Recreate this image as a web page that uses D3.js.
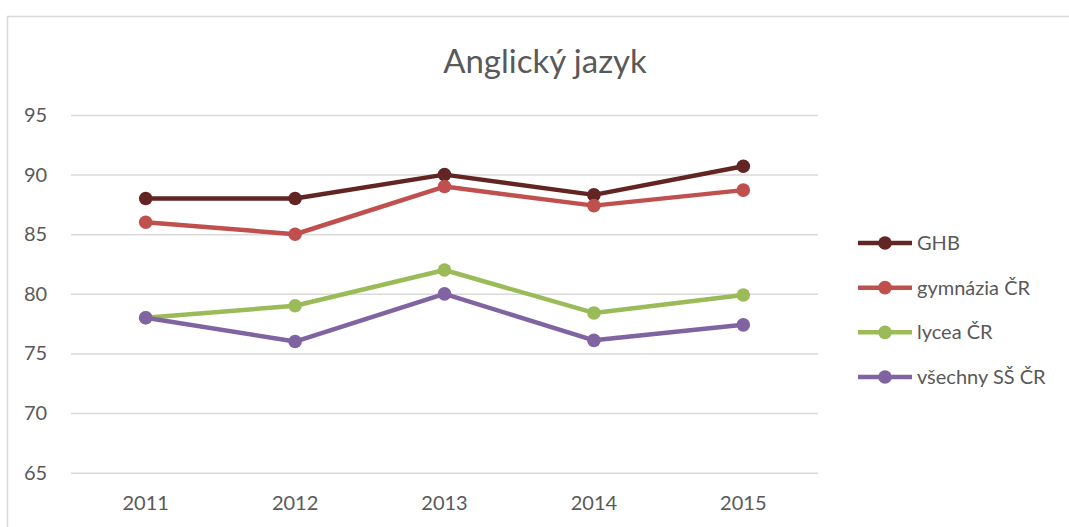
<!DOCTYPE html>
<html><head><meta charset="utf-8">
<script src="https://cdn.jsdelivr.net/npm/d3@7"></script>
<style>body{margin:0;background:#fff}svg{display:block}</style>
</head><body>
<script>
const categories = ["2011","2012","2013","2014","2015"];
const seriesNames = ["GHB","gymnázia ČR","lycea ČR","všechny SŠ ČR"];
const ghb = [88, 88, 90, 88.3, 90.7];
const gymnazia = [86, 85, 89, 87.4, 88.7];
const lycea = [78, 79, 82, 78.4, 79.9];
const vsechny = [78, 76, 80, 76.1, 77.4];
const yTicks = [65, 70, 75, 80, 85, 90, 95];
const colors = ["#632523", "#C0504D", "#9BBB59", "#8064A2"];
const seriesValues = [ghb, gymnazia, lycea, vsechny];

const W = 1069, H = 527;
const svg = d3.select("body").append("svg").attr("width", W).attr("height", H);
const font = "Lato, 'Open Sans', sans-serif";

svg.append("rect").attr("x", 7.5).attr("y", 16.5).attr("width", W).attr("height", H)
  .attr("fill", "none").attr("stroke", "#d9d9d9").attr("stroke-width", 1.5);

const x = d3.scaleBand().domain(categories).range([71, 818]);
const y = d3.scaleLinear().domain([65, 95]).range([472.7, 115]);

svg.append("text").attr("x", 545).attr("y", 73).attr("text-anchor", "middle")
  .attr("font-family", font).attr("font-size", 33).attr("fill", "#595959").text("Anglický jazyk");

// grid
const yAxis = d3.axisLeft(y).tickValues(yTicks).tickSize(-(818 - 71)).tickPadding(20);
const gy = svg.append("g").attr("transform", "translate(71,0)").call(yAxis);
gy.select(".domain").remove();
gy.selectAll(".tick line").attr("stroke", "#d9d9d9").attr("stroke-width", 1.5);
gy.selectAll(".tick text").attr("font-family", font).attr("font-size", 20).attr("fill", "#595959")
  .attr("text-anchor", "start").attr("x", -47);

const xAxis = d3.axisBottom(x).tickSize(0).tickPadding(23);
const gx = svg.append("g").attr("transform", "translate(0,472.7)").call(xAxis);
gx.select(".domain").remove();
gx.selectAll(".tick text").attr("font-family", font).attr("font-size", 20).attr("fill", "#595959");

const cx = d => x(d) + x.bandwidth() / 2;
const line = d3.line().x((d, i) => cx(categories[i])).y(d => y(d));

seriesValues.forEach((vals, s) => {
  const g = svg.append("g");
  g.append("path").datum(vals).attr("d", line).attr("fill", "none")
    .attr("stroke", colors[s]).attr("stroke-width", 4.5).attr("stroke-linejoin", "round");
  g.selectAll("circle").data(vals).join("circle")
    .attr("cx", (d, i) => cx(categories[i])).attr("cy", d => y(d)).attr("r", 6.8)
    .attr("fill", colors[s]);
});

// legend
const leg = svg.append("g");
const legY = d3.scalePoint().domain(seriesNames).range([243, 377]);
seriesNames.forEach((n, s) => {
  const yy = legY(n);
  leg.append("line").attr("x1", 858).attr("x2", 912).attr("y1", yy).attr("y2", yy)
    .attr("stroke", colors[s]).attr("stroke-width", 4.5);
  leg.append("circle").attr("cx", 885).attr("cy", yy).attr("r", 6.8).attr("fill", colors[s]);
  leg.append("text").attr("x", 917).attr("y", yy).attr("dy", "0.35em")
    .attr("font-family", font).attr("font-size", 20).attr("fill", "#595959").text(n);
});
</script>
</body></html>
